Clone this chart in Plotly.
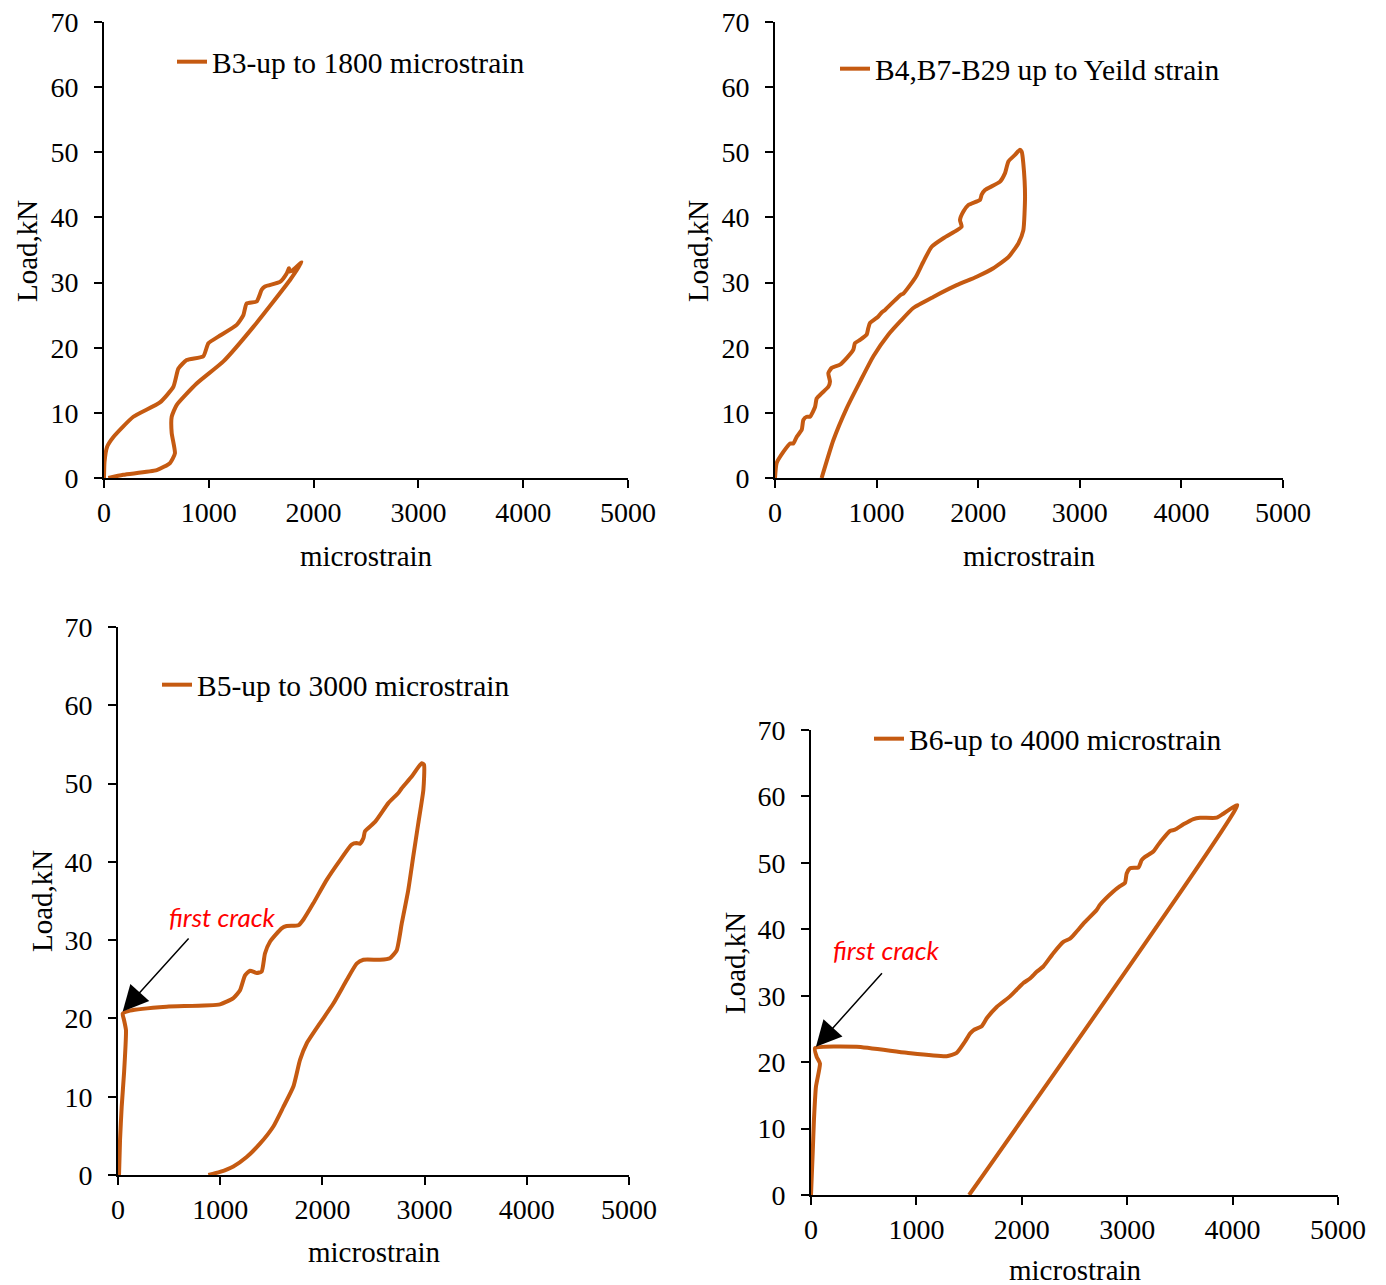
import plotly.graph_objects as go

W, H = 1386, 1285
ORANGE = "#C55A11"
SERIF = "Liberation Serif"

# ---- B3: load vs strain, loading then unloading branch ----
b3_strain = [0, 5, 30, 90, 280, 534, 662, 710, 789, 948, 996, 1091, 1266, 1330, 1361,
             1457, 1505, 1536, 1679, 1743, 1765, 1750, 1800, 1886,
             1775, 1425, 1139, 884, 693, 646, 646, 677, 630, 503, 184, 41]
b3_load = [0, 2.5, 4.8, 6.3, 9.4, 11.6, 14.0, 16.8, 18.1, 18.7, 20.7, 21.7, 23.5, 25.0, 26.8,
           27.1, 28.9, 29.4, 30.1, 31.4, 32.2, 31.6, 31.9, 33.1,
           30.4, 23.2, 17.9, 14.5, 11.2, 9.4, 6.9, 3.8, 2.3, 1.2, 0.5, 0]

# ---- B4, B7-B29 ----
b4_strain = [0, 16, 82, 148, 181, 213, 263, 279, 312, 344, 394, 410, 459, 525, 541, 525, 558,
             640, 705, 771, 787, 837, 902, 918, 935, 1017, 1050, 1083, 1214, 1247, 1263, 1329,
             1394, 1460, 1542, 1657, 1788, 1837, 1821, 1854, 1903, 2018, 2034, 2067, 2215,
             2264, 2297, 2362, 2411, 2428,
             2444, 2461, 2444, 2395, 2297, 2149, 1985, 1788, 1558, 1361, 1230, 1115, 968,
             837, 705, 574, 459]
b4_load = [0, 2.3, 4.0, 5.3, 5.3, 6.3, 7.4, 8.9, 9.4, 9.4, 10.9, 12.2, 13.0, 14.0, 14.8, 16.1,
           16.9, 17.4, 18.4, 19.7, 20.7, 21.2, 22.0, 23.0, 23.8, 24.8, 25.4, 25.8, 27.8, 28.2,
           28.3, 29.6, 31.1, 33.2, 35.5, 36.8, 38.0, 38.6, 39.6, 40.9, 41.9, 42.7, 43.5, 44.2,
           45.5, 46.8, 48.6, 49.6, 50.4, 50.1,
           48.3, 43.2, 38.0, 36.0, 33.9, 32.2, 30.9, 29.6, 27.8, 26.1, 24.0, 22.0, 18.7,
           14.8, 10.7, 5.8, 0]

# ---- B5 ----
b5_strain = [10, 20, 36, 59, 78, 59, 46, 117, 476, 998, 1129, 1194, 1243, 1292, 1357, 1406,
             1438, 1487, 1601, 1650, 1765, 1813, 1911, 2042, 2172, 2286, 2335, 2368, 2401,
             2417, 2515, 2645, 2743, 2776, 2874, 2971, 2994,
             2988, 2938, 2889, 2840, 2776, 2727, 2661, 2564, 2401, 2335, 2238, 2107, 1977,
             1846, 1781, 1716, 1618, 1520, 1389, 1259, 1129, 998, 884]
b5_load = [0, 4.5, 8.7, 13.0, 18.5, 19.8, 20.6, 21.0, 21.5, 21.8, 22.6, 23.6, 25.5, 26.1,
           25.8, 26.0, 28.3, 29.8, 31.5, 31.8, 31.9, 32.6, 34.7, 37.7, 40.2, 42.2, 42.4,
           42.3, 43.0, 43.9, 45.1, 47.5, 48.8, 49.4, 50.9, 52.6, 52.4,
           49.2, 44.9, 40.7, 36.4, 32.1, 28.7, 27.7, 27.5, 27.5, 27.0, 24.9, 21.9, 19.4,
           16.8, 14.7, 11.3, 8.7, 6.2, 4.0, 2.3, 1.1, 0.4, 0]

# ---- B6 ----
b6_strain = [0, 16, 28, 47, 85, 54, 38, 433, 908, 1287, 1382, 1461, 1509, 1540, 1619, 1667,
             1762, 1888, 1951, 2015, 2078, 2141, 2204, 2299, 2394, 2457, 2489, 2600, 2710,
             2742, 2868, 2932, 2979, 2995, 3027, 3106, 3137, 3169, 3248, 3280, 3327, 3406,
             3453, 3533, 3628, 3691, 3849, 3912, 4045,
             1500]
b6_load = [0, 6.3, 11.3, 16.3, 19.8, 20.8, 22.1, 22.3, 21.4, 20.9, 21.4, 23.1, 24.3, 24.8,
           25.4, 26.6, 28.3, 29.9, 30.9, 31.9, 32.6, 33.6, 34.4, 36.4, 38.1, 38.6, 39.1,
           41.1, 42.9, 43.7, 45.7, 46.5, 47.0, 48.4, 49.2, 49.3, 50.4, 50.9, 51.7, 52.4,
           53.4, 54.8, 55.0, 55.8, 56.6, 56.8, 56.8, 57.4, 58.7,
           0]

series = [
    ("B3-up to 1800 microstrain", b3_strain, b3_load),
    ("B4,B7-B29 up to Yeild strain", b4_strain, b4_load),
    ("B5-up to 3000 microstrain", b5_strain, b5_load),
    ("B6-up to 4000 microstrain", b6_strain, b6_load),
]

x_ticks = [0, 1000, 2000, 3000, 4000, 5000]
y_ticks = [0, 10, 20, 30, 40, 50, 60, 70]

# plot-area boxes in pixels: (left, right, top, bottom)
boxes = [(104, 628, 22, 478), (775, 1283, 22, 478),
         (118, 629, 627, 1175), (811, 1338, 730, 1195)]
# legend anchor (left x, center y) in pixels
legend_pos = [(172, 62), (835, 69), (157, 685), (869, 739)]
# axis title positions in pixels
xtitle_pos = [(366, 556), (1029, 556), (374, 1252), (1075, 1270)]
ytitle_pos = [(27, 251), (698, 251), (42, 901), (735, 963)]


def px(x):
    return x / W


def py(y):
    return 1 - y / H


fig = go.Figure()
layout = dict(
    width=W, height=H,
    margin=dict(l=0, r=0, t=0, b=0, autoexpand=False),
    paper_bgcolor="white", plot_bgcolor="white",
    font=dict(family=SERIF, size=28, color="black"),
    annotations=[],
)

for i, (name, xs, ys) in enumerate(series):
    n = i + 1
    sfx = "" if n == 1 else str(n)
    leg = "legend" if n == 1 else f"legend{n}"
    fig.add_trace(go.Scatter(
        x=xs, y=ys, mode="lines", name=name,
        line=dict(color=ORANGE, width=4, shape="spline", smoothing=0.5),
        xaxis=f"x{sfx}", yaxis=f"y{sfx}", legend=leg, showlegend=True,
        hoverinfo="skip",
    ))
    l, r, t, b = boxes[i]
    layout[f"xaxis{sfx}"] = dict(
        domain=[px(l), px(r)], anchor=f"y{sfx}", range=[0, 5000],
        tickvals=x_ticks, ticks="outside", ticklen=8, tickwidth=2, tickcolor="black",
        showline=True, linecolor="black", linewidth=2, showgrid=False, zeroline=False,
        tickfont=dict(family=SERIF, size=28, color="black"), ticklabelstandoff=0,
        fixedrange=True,
    )
    layout[f"yaxis{sfx}"] = dict(
        domain=[py(b), py(t)], anchor=f"x{sfx}", range=[0, 70],
        tickvals=y_ticks, ticks="outside", ticklen=8, tickwidth=2, tickcolor="black",
        showline=True, linecolor="black", linewidth=2, showgrid=False, zeroline=False,
        tickfont=dict(family=SERIF, size=28, color="black"), ticklabelstandoff=10,
        fixedrange=True,
    )
    lx, ly = legend_pos[i]
    layout[leg] = dict(
        x=px(lx), y=py(ly), xanchor="left", yanchor="middle",
        bgcolor="rgba(0,0,0,0)", borderwidth=0,
        font=dict(family=SERIF, size=29.5, color="black"),
        itemwidth=30, tracegroupgap=0,
    )
    tx, ty = xtitle_pos[i]
    layout["annotations"].append(dict(
        text="microstrain", xref="paper", yref="paper", x=px(tx), y=py(ty),
        xanchor="center", yanchor="middle", showarrow=False,
        font=dict(family=SERIF, size=29, color="black"),
    ))
    ux, uy = ytitle_pos[i]
    layout["annotations"].append(dict(
        text="Load,kN", xref="paper", yref="paper", x=px(ux), y=py(uy),
        xanchor="center", yanchor="middle", showarrow=False, textangle=-90,
        font=dict(family=SERIF, size=29, color="black"),
    ))

# first-crack markers on B5 and B6
crack_notes = [
    dict(ax="x3", ay="y3", tip=(46, 20.9), tail=(704, 30.4), label=(1015, 33.0)),
    dict(ax="x4", ay="y4", tip=(47, 22.3), tail=(686, 33.6), label=(712, 36.9)),
]
for c in crack_notes:
    layout["annotations"].append(dict(
        text="", xref=c["ax"], yref=c["ay"], axref=c["ax"], ayref=c["ay"],
        x=c["tip"][0], y=c["tip"][1], ax=c["tail"][0], ay=c["tail"][1],
        showarrow=True, arrowhead=2, arrowsize=3.4, arrowwidth=1.5, arrowcolor="black",
        standoff=0, startstandoff=0,
    ))
    layout["annotations"].append(dict(
        text="<i>first crack</i>", xref=c["ax"], yref=c["ay"],
        x=c["label"][0], y=c["label"][1], showarrow=False,
        xanchor="center", yanchor="middle",
        font=dict(family="Lato", size=26, color="#FF0000"),
    ))

fig.update_layout(**layout)
fig.write_html("out.html", config={"displayModeBar": False})
